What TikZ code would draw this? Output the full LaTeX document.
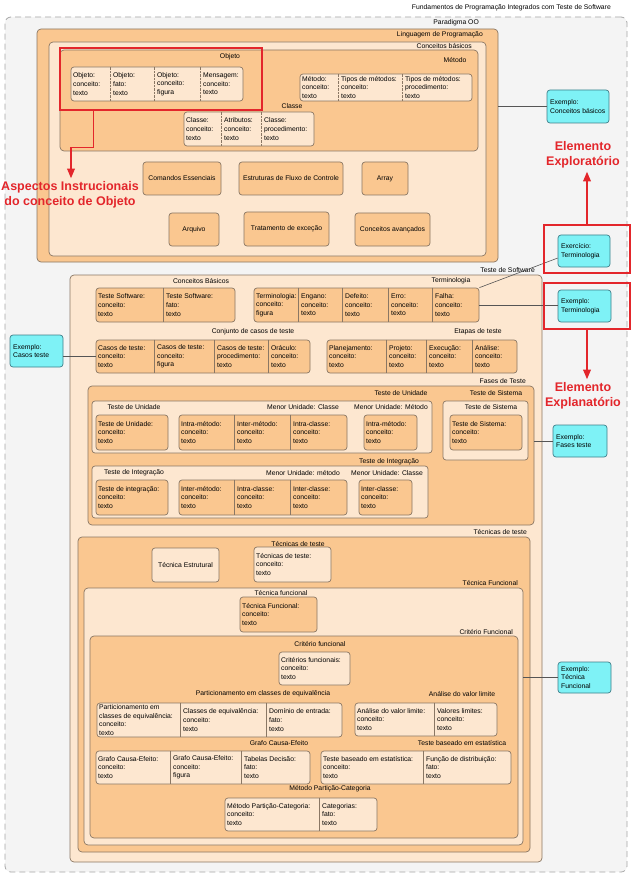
\documentclass[tikz,border=0pt]{standalone}
\usepackage{fontspec}
\setmainfont{Liberation Sans}
\usetikzlibrary{arrows,fit}
\definecolor{peach}{HTML}{FAC790}
\definecolor{cream}{HTML}{FDE7D0}
\definecolor{edge}{HTML}{8A7764}
\definecolor{excyan}{HTML}{7EF2F6}
\definecolor{exedge}{HTML}{3E7F8A}
\definecolor{alert}{HTML}{E3262B}
\definecolor{conngray}{HTML}{555555}
\definecolor{bggray}{HTML}{F4F4F4}

\begin{document}
\begin{tikzpicture}[x=1pt,y=-1pt]
\tikzstyle{every node}=[font=\fontsize{6.8}{8.6}\selectfont]
\tikzstyle{outerframe}=[draw=gray!70, fill=bggray, dashed, dash pattern=on 6pt off 4pt, line width=0.8pt, rounded corners=6pt, inner sep=0pt]
\tikzstyle{shell}=[draw=edge, line width=0.7pt, rounded corners=4pt, inner sep=0pt]
\tikzstyle{grp}=[draw=edge, line width=0.7pt, rounded corners=3pt, inner sep=0pt]
\tikzstyle{cell}=[anchor=west, align=left, inner xsep=2.5pt, inner ysep=0pt, outer sep=0pt]
\tikzstyle{boxplain}=[draw=edge, fill=peach, line width=0.7pt, rounded corners=3pt, align=center]
\tikzstyle{exbox}=[draw=exedge, fill=excyan, line width=0.7pt, rounded corners=3pt, inner sep=0pt]
\tikzstyle{redbox}=[draw=alert, line width=1.4pt, inner sep=0pt]
\tikzstyle{redarrow}=[draw=alert, line width=1.2pt, -triangle 45]
\tikzstyle{alerttext}=[text=alert, font=\fontsize{12.5}{15}\selectfont\bfseries, align=center]
\tikzstyle{lbl}=[inner sep=1pt]
\tikzstyle{divline}=[draw=edge, line width=0.4pt]
\tikzstyle{dotdiv}=[draw=edge, line width=0.4pt, densely dotted]
\tikzstyle{conn}=[draw=conngray, line width=0.6pt]

\useasboundingbox (0,0) rectangle (633,877);

% moldura geral
\node[outerframe, fit={(5,17) (627,872)}] (moldura) {};
\node[lbl, anchor=east] (titulo) at (612,8) {Fundamentos de Programação Integrados com Teste de Software};

% ---------------- Paradigma OO
\node[shell, fill=peach, fit={(37,29) (498,262)}] (paradigma) {};
\node[lbl, anchor=east] (lparadigma) at (480,23) {Paradigma OO};
\node[shell, fill=cream, fit={(49,42) (486,256)}] (linguagem) {};
\node[lbl, anchor=east] (llinguagem) at (484,35) {Linguagem de Programação};
\node[shell, fill=peach, fit={(60,50) (478,151)}] (conceitosb) {};
\node[lbl, anchor=east] (lconceitosb) at (473,46) {Conceitos básicos};

\node[lbl] (lobjeto) at (230,57) {Objeto};
\node[grp, fill=cream, fit={(71,67) (243,101)}] (objeto) {};
\foreach \o/\t [count=\i] in {0/Objeto:\\conceito:\\texto, 40/Objeto:\\fato:\\texto,
  84/Objeto:\\conceito:\\figura, 130/Mensagem:\\conceito:\\texto}
{
  \node[cell] (objeto\i) at ([xshift=\o]objeto.west) {\t};
  \ifnum\i>1 \draw[dotdiv] (objeto\i.west |- objeto.north) -- (objeto\i.west |- objeto.south); \fi
}

\node[lbl] (lmetodo) at (455,60) {Método};
\node[grp, fill=cream, fit={(300,74) (472,101)}] (metodo) {};
\foreach \o/\t [count=\i] in {0/Método:\\conceito:\\texto, 39/Tipos de métodos:\\conceito:\\texto,
  103/Tipos de métodos:\\procedimento:\\texto}
{
  \node[cell] (metodo\i) at ([xshift=\o]metodo.west) {\t};
  \ifnum\i>1 \draw[dotdiv] (metodo\i.west |- metodo.north) -- (metodo\i.west |- metodo.south); \fi
}

\node[lbl] (lclasse) at (292,106) {Classe};
\node[grp, fill=cream, fit={(184,112) (314,146)}] (classe) {};
\foreach \o/\t [count=\i] in {0/Classe:\\conceito:\\texto, 38/Atributos:\\conceito:\\texto,
  78/Classe:\\procedimento:\\texto}
{
  \node[cell] (classe\i) at ([xshift=\o]classe.west) {\t};
  \ifnum\i>1 \draw[dotdiv] (classe\i.west |- classe.north) -- (classe\i.west |- classe.south); \fi
}

\node[boxplain, minimum width=78, minimum height=33] (comandos) at (182,178.5) {Comandos Essenciais};
\node[boxplain, minimum width=104, minimum height=33] (estruturas) at (291,178.5) {Estruturas de Fluxo de Controle};
\node[boxplain, minimum width=46, minimum height=33] (array) at (385,178.5) {Array};
\node[boxplain, minimum width=50, minimum height=33] (arquivo) at (194,229.5) {Arquivo};
\node[boxplain, minimum width=85, minimum height=34] (tratamento) at (286.5,229) {Tratamento de exceção};
\node[boxplain, minimum width=75, minimum height=33] (avancados) at (392.5,229.5) {Conceitos avançados};

% ---------------- Teste de Software
\node[shell, fill=cream, fit={(70,275) (542,862)}] (tsoft) {};
\node[lbl, anchor=east] (ltsoft) at (536,270) {Teste de Software};

\node[lbl] (lcbasicos) at (201,281) {Conceitos Básicos};
\node[grp, fill=peach, fit={(96,288) (235,322)}] (tsw) {};
\foreach \o/\t [count=\i] in {0/Teste Software:\\conceito:\\texto, 68/Teste Software:\\fato:\\texto}
{
  \node[cell] (tsw\i) at ([xshift=\o]tsw.west) {\t};
  \ifnum\i>1 \draw[divline] (tsw\i.west |- tsw.north) -- (tsw\i.west |- tsw.south); \fi
}

\node[lbl] (ltermo) at (451,281) {Terminologia};
\node[grp, fill=peach, fit={(254,288) (479,322)}] (termo) {};
\foreach \o/\t [count=\i] in {0/Terminologia:\\conceito:\\figura, 45/Engano:\\conceito:\\texto,
  89/Defeito:\\conceito:\\texto, 135/Erro:\\conceito:\\texto, 179/Falha:\\conceito:\\texto}
{
  \node[cell] (termo\i) at ([xshift=\o]termo.west) {\t};
  \ifnum\i>1 \draw[divline] (termo\i.west |- termo.north) -- (termo\i.west |- termo.south); \fi
}

\node[lbl] (lcasos) at (253,332) {Conjunto de casos de teste};
\node[grp, fill=peach, fit={(96,340) (310,373)}] (casos) {};
\foreach \o/\t [count=\i] in {0/Casos de teste:\\conceito:\\texto, 59/Casos de teste:\\conceito:\\figura,
  119/Casos de teste:\\procedimento:\\texto, 173/Oráculo:\\conceito:\\texto}
{
  \node[cell] (casos\i) at ([xshift=\o]casos.west) {\t};
  \ifnum\i>1 \draw[divline] (casos\i.west |- casos.north) -- (casos\i.west |- casos.south); \fi
}

\node[lbl] (letapas) at (478,332) {Etapas de teste};
\node[grp, fill=peach, fit={(327,340) (517,373)}] (etapas) {};
\foreach \o/\t [count=\i] in {0/Planejamento:\\conceito:\\texto, 60/Projeto:\\conceito:\\texto,
  100/Execução:\\conceito:\\texto, 146/Análise:\\conceito:\\texto}
{
  \node[cell] (etapas\i) at ([xshift=\o]etapas.west) {\t};
  \ifnum\i>1 \draw[divline] (etapas\i.west |- etapas.north) -- (etapas\i.west |- etapas.south); \fi
}

% Fases de Teste
\node[shell, fill=peach, fit={(88,386) (534,525)}] (fases) {};
\node[lbl, anchor=east] (lfases) at (527,381) {Fases de Teste};
\node[lbl] (lunidout) at (401,393) {Teste de Unidade};
\node[lbl] (lsistout) at (496,393) {Teste de Sistema};
\node[grp, fill=cream, fit={(92,401) (432,453)}] (unidout) {};
\node[grp, fill=cream, fit={(443,401) (528,460)}] (sistout) {};
\node[lbl] (lunid) at (134,407) {Teste de Unidade};
\node[lbl] (lmenorc) at (303,407) {Menor Unidade: Classe};
\node[lbl] (lmenorm) at (391,407) {Menor Unidade: Método};
\node[lbl] (lsist) at (491,407) {Teste de Sistema};

\node[grp, fill=peach, fit={(96,415) (168,450)}] (unid) {};
\node[cell] (unid1) at (unid.west) {Teste de Unidade:\\conceito:\\texto};
\node[grp, fill=peach, fit={(179,415) (347,450)}] (intra) {};
\foreach \o/\t [count=\i] in {0/Intra-método:\\conceito:\\texto, 56/Inter-método:\\conceito:\\texto,
  112/Intra-classe:\\conceito:\\texto}
{
  \node[cell] (intra\i) at ([xshift=\o]intra.west) {\t};
  \ifnum\i>1 \draw[divline] (intra\i.west |- intra.north) -- (intra\i.west |- intra.south); \fi
}
\node[grp, fill=peach, fit={(364,415) (417,450)}] (intram) {};
\node[cell] (intram1) at (intram.west) {Intra-método:\\conceito:\\texto};
\node[grp, fill=peach, fit={(450,415) (522,450)}] (sist) {};
\node[cell] (sist1) at (sist.west) {Teste de Sistema:\\conceito:\\texto};

\node[lbl] (lintegout) at (389,462) {Teste de Integração};
\node[grp, fill=cream, fit={(92,466) (428,518)}] (integout) {};
\node[lbl] (linteg) at (134,473) {Teste de Integração};
\node[lbl] (lmenorm2) at (303,473) {Menor Unidade: método};
\node[lbl] (lmenorc2) at (387,473) {Menor Unidade: Classe};
\node[grp, fill=peach, fit={(96,480) (168,515)}] (integ) {};
\node[cell] (integ1) at (integ.west) {Teste de integração:\\conceito:\\texto};
\node[grp, fill=peach, fit={(179,480) (347,515)}] (inter) {};
\foreach \o/\t [count=\i] in {0/Inter-método:\\conceito:\\texto, 56/Intra-classe:\\conceito:\\texto,
  112/Inter-classe:\\conceito:\\texto}
{
  \node[cell] (inter\i) at ([xshift=\o]inter.west) {\t};
  \ifnum\i>1 \draw[divline] (inter\i.west |- inter.north) -- (inter\i.west |- inter.south); \fi
}
\node[grp, fill=peach, fit={(359,480) (412,515)}] (interc) {};
\node[cell] (interc1) at (interc.west) {Inter-classe:\\conceito:\\texto};

% Técnicas de teste
\node[shell, fill=peach, fit={(78,537) (530,852)}] (tecn) {};
\node[lbl, anchor=east] (ltecn) at (528,532) {Técnicas de teste};
\node[lbl] (ltecnicas) at (298,544) {Técnicas de teste};
\node[boxplain, fill=cream, minimum width=67, minimum height=34] (estrutural) at (185.5,565) {Técnica Estrutural};
\node[grp, fill=cream, fit={(254,547) (331,582)}] (tecnicas) {};
\node[cell] (tecnicas1) at (tecnicas.west) {Técnicas de teste:\\conceito:\\texto};

\node[shell, fill=cream, fit={(84,588) (523,845)}] (tfuncbox) {};
\node[lbl, anchor=east] (ltfuncbox) at (519,583) {Técnica Funcional};
\node[lbl] (ltfunc) at (281,593) {Técnica funcional};
\node[grp, fill=peach, fit={(240,597) (317,632)}] (tfunc) {};
\node[cell] (tfunc1) at (tfunc.west) {Técnica Funcional:\\conceito:\\texto};

\node[shell, fill=peach, fit={(90,636) (518,838)}] (critbox) {};
\node[lbl, anchor=east] (lcritbox) at (514,632) {Critério Funcional};
\node[lbl] (lcrit) at (320,644) {Critério funcional};
\node[grp, fill=cream, fit={(279,652) (350,685)}] (crit) {};
\node[cell] (crit1) at (crit.west) {Critérios funcionais:\\conceito:\\texto};

\node[lbl] (lpart) at (263,694) {Particionamento em classes de equivalência};
\node[grp, fill=cream, fit={(97,703) (342,737)}] (part) {};
\foreach \o/\t [count=\i] in {0/Particionamento em\\classes de equivalência:\\conceito:\\texto,
  84/Classes de equivalência:\\conceito:\\texto, 170/Domínio de entrada:\\fato:\\texto}
{
  \node[cell] (part\i) at ([xshift=\o]part.west) {\t};
  \ifnum\i>1 \draw[divline] (part\i.west |- part.north) -- (part\i.west |- part.south); \fi
}

\node[lbl] (lanalise) at (462,694) {Análise do valor limite};
\node[grp, fill=cream, fit={(355,703) (497,736)}] (analise) {};
\foreach \o/\t [count=\i] in {0/Análise do valor limite:\\conceito:\\texto, 80/Valores limites:\\conceito:\\texto}
{
  \node[cell] (analise\i) at ([xshift=\o]analise.west) {\t};
  \ifnum\i>1 \draw[divline] (analise\i.west |- analise.north) -- (analise\i.west |- analise.south); \fi
}

\node[lbl] (lgrafo) at (279,743) {Grafo Causa-Efeito};
\node[grp, fill=cream, fit={(96,751) (310,784)}] (grafo) {};
\foreach \o/\t [count=\i] in {0/Grafo Causa-Efeito:\\conceito:\\texto, 75/Grafo Causa-Efeito:\\conceito:\\figura,
  146/Tabelas Decisão:\\fato:\\texto}
{
  \node[cell] (grafo\i) at ([xshift=\o]grafo.west) {\t};
  \ifnum\i>1 \draw[divline] (grafo\i.west |- grafo.north) -- (grafo\i.west |- grafo.south); \fi
}

\node[lbl] (lestat) at (462,743) {Teste baseado em estatística};
\node[grp, fill=cream, fit={(321,751) (511,784)}] (estat) {};
\foreach \o/\t [count=\i] in {0/Teste baseado em estatística:\\conceito:\\texto, 103/Função de distribuição:\\fato:\\texto}
{
  \node[cell] (estat\i) at ([xshift=\o]estat.west) {\t};
  \ifnum\i>1 \draw[divline] (estat\i.west |- estat.north) -- (estat\i.west |- estat.south); \fi
}

\node[lbl] (lmpc) at (330,789) {Método Partição-Categoria};
\node[grp, fill=cream, fit={(225,798) (377,831)}] (mpc) {};
\foreach \o/\t [count=\i] in {0/Método Partição-Categoria:\\conceito:\\texto, 95/Categorias:\\fato:\\texto}
{
  \node[cell] (mpc\i) at ([xshift=\o]mpc.west) {\t};
  \ifnum\i>1 \draw[divline] (mpc\i.west |- mpc.north) -- (mpc\i.west |- mpc.south); \fi
}

% ---------------- exemplos e exercicio
\node[exbox, fit={(547,90) (609,123)}] (ex1) {};
\node[cell] (ex1t) at ([xshift=1]ex1.west) {Exemplo:\\Conceitos básicos};
\node[exbox, fit={(558,235) (610,267)}] (exerc) {};
\node[cell] (exerct) at ([xshift=1]exerc.west) {Exercício:\\Terminologia};
\node[exbox, fit={(558,290) (611,322)}] (ex2) {};
\node[cell] (ex2t) at ([xshift=1]ex2.west) {Exemplo:\\Terminologia};
\node[exbox, fit={(10,335) (63,367)}] (excasos) {};
\node[cell] (excasost) at ([xshift=1]excasos.west) {Exemplo:\\Casos teste};
\node[exbox, fit={(553,425) (607,457)}] (exfases) {};
\node[cell] (exfasest) at ([xshift=1]exfases.west) {Exemplo:\\Fases teste};
\node[exbox, fit={(558,662) (611,693)}] (exfunc) {};
\node[cell] (exfunct) at ([xshift=1]exfunc.west) {Exemplo:\\Técnica\\Funcional};

\draw[conn] (ex1.west -| paradigma.east) -- (ex1.west);
\draw[conn] (exerc.195) -- (termo.north east);
\draw[conn] (termo.east) -- (termo.east -| ex2.west);
\draw[conn] (excasos.east |- casos.west) -- (casos.west);
\draw[conn] (exfases.west -| fases.east) -- (exfases.west);
\draw[conn] (exfunc.west -| tfuncbox.east) -- (exfunc.west);

% ---------------- destaques em vermelho
\node[redbox, fit={(60,48) (262,110)}] (redobj) {};
\node[alerttext] (aspectos) at (70,195) {Aspectos Instrucionais\\do conceito de Objeto};
\draw[redarrow] ([xshift=34]redobj.south west) -- ++(0,37) -| ([xshift=1]aspectos.north);

\node[redbox, fit={(544,225) (630,273)}] (redexerc) {};
\node[alerttext] (explor) at (583,155) {Elemento\\Exploratório};
\draw[redarrow] (redexerc.north) -- (redexerc.north |- explor.south);

\node[redbox, fit={(544,283) (630,329)}] (redex2) {};
\node[alerttext] (explan) at (583,396) {Elemento\\Explanatório};
\draw[redarrow] (redex2.south) -- (redex2.south |- explan.north);
\end{tikzpicture}
\end{document}
